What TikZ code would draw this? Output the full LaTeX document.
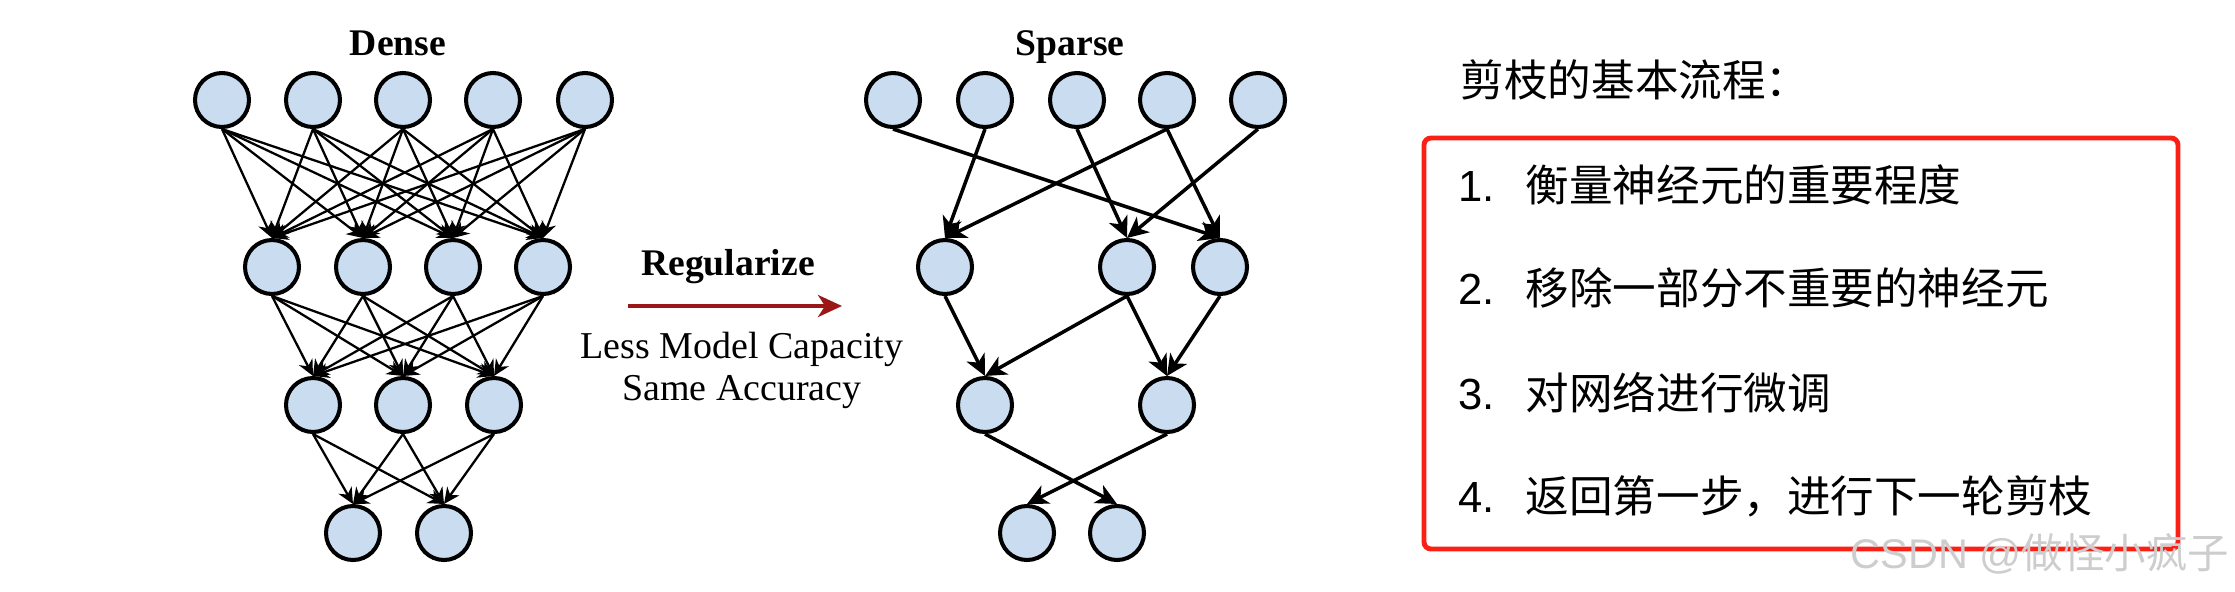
\documentclass[tikz,border=0pt]{standalone}
\usepackage{fontspec}
\setmainfont{Liberation Serif}
\newfontfamily\cjk{Noto Sans CJK SC}
\newfontfamily\numfont{Liberation Sans}
\usepackage{tikz}
\usetikzlibrary{arrows.meta, positioning}
\definecolor{nnblue}{RGB}{201,220,240}
\definecolor{nnred}{RGB}{155,22,22}
\definecolor{boxred}{RGB}{250,32,22}
\definecolor{markgray}{RGB}{205,205,205}
\tikzset{
  neuron/.style={
    circle, draw=black, line width=1.15pt, fill=nnblue,
    minimum size=0.54cm, inner sep=0pt
  },
  nettitle/.style={anchor=base, font=\fontsize{10.7}{13}\selectfont\bfseries},
  notetext/.style={anchor=base, font=\fontsize{10.8}{13}\selectfont},
  steptext/.style={anchor=west, inner sep=0pt, font=\fontsize{12.4}{15}\selectfont\cjk},
  denseflow/.style={-{Stealth[length=1.6mm, width=1.5mm]}, line width=0.65pt},
  sparseflow/.style={-{Stealth[length=2.1mm, width=2mm, inset=0.6mm]}, line width=1pt},
  regflow/.style={-{Stealth[length=2.4mm, width=2.2mm, inset=0.7mm]}, line width=1.1pt, draw=nnred}
}

\begin{document}
\begin{tikzpicture}
\useasboundingbox (0,0) rectangle (22.35,5.91);

% Dense network (fully connected)
\node[nettitle] (dtitle) at (3.98,5.36) {Dense};
\node[neuron] (d1a) at (2.22,4.91) {};
\node[neuron] (d1b) at (3.13,4.91) {};
\node[neuron] (d1c) at (4.03,4.91) {};
\node[neuron] (d1d) at (4.93,4.91) {};
\node[neuron] (d1e) at (5.85,4.91) {};
\node[neuron] (d2a) at (2.72,3.24) {};
\node[neuron] (d2b) at (3.63,3.24) {};
\node[neuron] (d2c) at (4.53,3.24) {};
\node[neuron] (d2d) at (5.43,3.24) {};
\node[neuron] (d3a) at (3.13,1.86) {};
\node[neuron] (d3b) at (4.03,1.86) {};
\node[neuron] (d3c) at (4.94,1.86) {};
\node[neuron] (d4a) at (3.53,0.58) {};
\node[neuron] (d4b) at (4.44,0.58) {};

\foreach \i in {a,b,c,d,e} \foreach \j in {a,b,c,d}
  \draw[denseflow] (d1\i.south) -- (d2\j.north);
\foreach \i in {a,b,c,d} \foreach \j in {a,b,c}
  \draw[denseflow] (d2\i.south) -- (d3\j.north);
\foreach \i in {a,b,c} \foreach \j in {a,b}
  \draw[denseflow] (d3\i.south) -- (d4\j.north);

% Regularize step
\node[nettitle] (reg) at (7.28,3.16) {Regularize};
\coordinate (regstart) at (6.28,2.85);
\coordinate (regend) at (8.42,2.85);
\draw[regflow] (regstart) -- (regend);
\node[notetext] (cap1) at (7.42,2.33) {Less Model Capacity};
\node[notetext] (cap2) at (7.42,1.91) {Same Accuracy};

% Sparse network (pruned)
\node[nettitle] (stitle) at (10.70,5.36) {Sparse};
\node[neuron] (s1a) at (8.93,4.91) {};
\node[neuron] (s1b) at (9.85,4.91) {};
\node[neuron] (s1c) at (10.77,4.91) {};
\node[neuron] (s1d) at (11.67,4.91) {};
\node[neuron] (s1e) at (12.58,4.91) {};
\node[neuron] (s2a) at (9.45,3.24) {};
\node[neuron] (s2b) at (11.27,3.24) {};
\node[neuron] (s2c) at (12.20,3.24) {};
\node[neuron] (s3a) at (9.85,1.86) {};
\node[neuron] (s3b) at (11.67,1.86) {};
\node[neuron] (s4a) at (10.27,0.58) {};
\node[neuron] (s4b) at (11.17,0.58) {};

\draw[sparseflow] (s1a.south) -- (s2c.north);
\draw[sparseflow] (s1b.south) -- (s2a.north);
\draw[sparseflow] (s1c.south) -- (s2b.north);
\draw[sparseflow] (s1d.south) -- (s2a.north);
\draw[sparseflow] (s1d.south) -- (s2c.north);
\draw[sparseflow] (s1e.south) -- (s2b.north);
\draw[sparseflow] (s2a.south) -- (s3a.north);
\draw[sparseflow] (s2b.south) -- (s3a.north);
\draw[sparseflow] (s2b.south) -- (s3b.north);
\draw[sparseflow] (s2c.south) -- (s3b.north);
\draw[sparseflow] (s3a.south) -- (s4b.north);
\draw[sparseflow] (s3b.south) -- (s4a.north);

% Pruning steps
\node[steptext] (head) at (14.60,5.11) {剪枝的基本流程：};
\node[draw=boxred, line width=1.4pt, rounded corners=2pt,
      minimum width=7.54cm, minimum height=4.11cm] (stepbox) at (18.01,2.475) {};
\node[steptext] (st1) at (14.58,4.06) {\makebox[0.67cm][l]{\numfont 1.}衡量神经元的重要程度};
\node[steptext] (st2) at (14.58,3.03) {\makebox[0.67cm][l]{\numfont 2.}移除一部分不重要的神经元};
\node[steptext] (st3) at (14.58,1.98) {\makebox[0.67cm][l]{\numfont 3.}对网络进行微调};
\node[steptext] (st4) at (14.58,0.95) {\makebox[0.67cm][l]{\numfont 4.}返回第一步，进行下一轮剪枝};

\node[anchor=west, inner sep=0pt, text=markgray, font=\fontsize{11.8}{14}\selectfont]
  (mark) at (18.50,0.37) {\numfont CSDN @\cjk 做怪小疯子};

\end{tikzpicture}
\end{document}
